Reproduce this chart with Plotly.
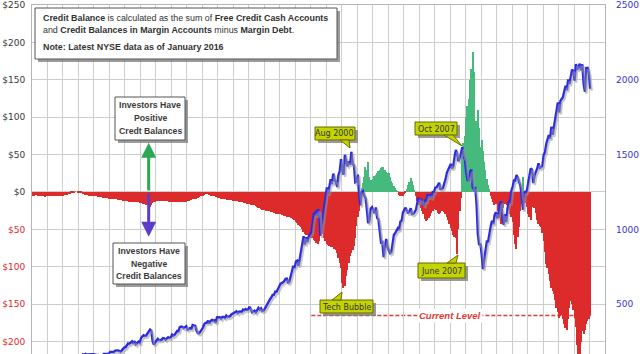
import plotly.graph_objects as go
import pandas as pd

# ---------------- data (monthly, Jan 1980 .. Jan 2016) ----------------
start_month = "1980-01-01"

credit_balance = [  # $ billions, NYSE credit balance
    -5, -5, -4, -4, -5, -5, -6, -6, -6, -6, -7, -6,          # 1980
    -6, -6, -6, -6, -6, -6, -5, -5, -5, -5, -5, -5,          # 1981
    -5, -4, -4, -4, -3, -3, -2, -1, -1, 1, 0, -1,            # 1982
    -1, -2, -2, -3, -3, -4, -4, -4, -5, -5, -5, -6,          # 1983
    -6, -6, -6, -7, -7, -7, -7, -8, -8, -8, -8, -9,          # 1984
    -9, -9, -9, -10, -10, -10, -11, -11, -11, -11, -12, -12, # 1985
    -12, -12, -12, -13, -13, -13, -13, -14, -14, -14, -14, -15,  # 1986
    -15, -15, -16, -16, -17, -18, -24, -20, -18, -15, -14, -13,  # 1987
    -12, -12, -12, -12, -12, -12, -12, -12, -12, -12, -13, -13,  # 1988
    -13, -13, -13, -13, -13, -13, -14, -14, -14, -13, -13, -13,  # 1989
    -12, -12, -11, -11, -10, -10, -10, -9, -8, -7, -6, -6,       # 1990
    -5, -4, -3, -3, -3, -4, -5, -5, -6, -6, -7, -7,              # 1991
    -8, -8, -9, -9, -10, -10, -10, -11, -11, -11, -11, -12,      # 1992
    -11, -12, -12, -12, -13, -13, -14, -14, -15, -15, -16, -16,  # 1993
    -16, -17, -17, -17, -18, -19, -20, -21, -22, -23, -24, -24,  # 1994
    -24, -25, -25, -26, -26, -27, -27, -28, -28, -29, -29, -30,  # 1995
    -30, -31, -31, -32, -32, -33, -33, -34, -35, -35, -36, -38,  # 1996
    -40, -42, -44, -45, -47, -50, -54, -56, -58, -58, -59, -60,  # 1997
    -61, -62, -64, -66, -68, -69, -66, -55, -52, -56, -62, -66,  # 1998
    -70, -71, -72, -73, -74, -74, -76, -78, -82, -88, -95, -102, # 1999
    -122, -129, -126, -112, -104, -95, -86, -82, -78, -72, -62, -45,  # 2000
    -34, -26, -12, 6, 12, 20, 33, 30, 40, 20, 16, 15,            # 2001
    18, 21, 23, 26, 28, 30, 32, 34, 33, 30, 27, 26,              # 2002
    25, 20, 15, 12, 8, 5, 2, 1, -4, -6, -5, -6,                  # 2003
    -3, -1, 4, 10, 14, 19, 15, 10, 3, -5, -12, -17,              # 2004
    -18, -22, -25, -30, -36, -39, -38, -35, -32, -28, -25, -23,  # 2005
    -21, -24, -28, -30, -28, -25, -24, -27, -30, -34, -38, -43,  # 2006
    -48, -52, -57, -60, -62, -83, -50, -25, -8, 50, 65, 75,      # 2007
    100, 115, 125, 150, 165, 187, 160, 70, 95, 110, 85, 60,      # 2008
    70, 55, 40, 30, 18, 10, 4, -5, -10, -14, -18, -16,           # 2009
    -16, -25, -35, -43, -30, -22, -16, -14, -18, -24, -30, -34,  # 2010
    -40, -58, -70, -76, -60, -47, -25, -16, 20, -11, -15, -20,   # 2011
    -29, -33, -38, -20, -11, -22, -28, -38, -43, -45, -47, -55,  # 2012
    -65, -80, -96, -101, -110, -119, -128, -133, -137, -145, -155, -160,  # 2013
    -168, -166, -164, -170, -177, -182, -184, -170, -155, -146, -150, -158,  # 2014
    -168, -180, -205, -225, -222, -200, -186, -190, -184, -177, -172, -170,  # 2015
    -165,                                                        # 2016
]

sp500 = [
    114, 114, 102, 106, 111, 114, 122, 122, 125, 127, 141, 136,
    130, 131, 136, 133, 133, 131, 131, 123, 116, 122, 126, 122,
    120, 113, 112, 116, 112, 110, 107, 120, 120, 134, 139, 141,
    145, 148, 153, 164, 162, 168, 163, 164, 166, 163, 166, 165,
    163, 157, 159, 160, 151, 153, 151, 167, 166, 166, 164, 167,
    180, 181, 181, 180, 190, 192, 191, 188, 182, 190, 202, 211,
    212, 227, 238, 235, 247, 251, 236, 253, 231, 244, 249, 242,
    274, 284, 292, 288, 290, 304, 319, 330, 322, 252, 230, 247,
    257, 268, 259, 261, 262, 274, 272, 262, 272, 279, 274, 278,
    297, 289, 295, 310, 321, 318, 346, 351, 349, 340, 346, 353,
    329, 332, 340, 331, 361, 358, 356, 323, 306, 304, 322, 330,
    344, 367, 375, 375, 390, 371, 388, 395, 388, 392, 375, 417,
    409, 413, 404, 415, 415, 408, 424, 414, 418, 419, 431, 436,
    439, 443, 452, 440, 450, 451, 448, 464, 459, 468, 462, 466,
    482, 467, 446, 451, 457, 444, 458, 475, 463, 472, 454, 459,
    470, 487, 501, 515, 533, 545, 562, 562, 584, 582, 605, 616,
    636, 640, 646, 654, 669, 671, 640, 652, 687, 705, 757, 741,
    786, 791, 757, 801, 848, 885, 954, 899, 947, 915, 955, 970,
    980, 1049, 1102, 1112, 1091, 1134, 1121, 957, 1017, 1099, 1164, 1229,
    1280, 1238, 1286, 1335, 1302, 1373, 1329, 1320, 1283, 1363, 1389, 1469,
    1394, 1366, 1499, 1452, 1421, 1455, 1431, 1518, 1437, 1429, 1315, 1320,
    1366, 1240, 1160, 1249, 1256, 1224, 1211, 1134, 1041, 1060, 1139, 1148,
    1130, 1107, 1147, 1077, 1067, 990, 912, 916, 815, 886, 936, 880,
    856, 841, 848, 917, 964, 975, 990, 1008, 996, 1051, 1058, 1112,
    1131, 1145, 1126, 1107, 1121, 1141, 1102, 1104, 1115, 1130, 1174, 1212,
    1181, 1204, 1181, 1157, 1192, 1191, 1234, 1220, 1229, 1207, 1249, 1248,
    1280, 1281, 1295, 1311, 1270, 1270, 1277, 1304, 1336, 1378, 1401, 1418,
    1438, 1407, 1421, 1482, 1531, 1503, 1455, 1474, 1527, 1549, 1481, 1468,
    1379, 1331, 1323, 1386, 1400, 1280, 1267, 1283, 1165, 969, 896, 903,
    826, 735, 798, 873, 919, 919, 987, 1021, 1057, 1036, 1096, 1115,
    1074, 1104, 1169, 1187, 1089, 1031, 1102, 1049, 1141, 1183, 1181, 1258,
    1286, 1327, 1326, 1364, 1345, 1321, 1292, 1219, 1131, 1253, 1247, 1258,
    1312, 1366, 1408, 1398, 1310, 1362, 1379, 1407, 1441, 1412, 1416, 1426,
    1498, 1515, 1569, 1598, 1631, 1606, 1686, 1633, 1682, 1757, 1806, 1848,
    1783, 1859, 1872, 1884, 1924, 1960, 1931, 2003, 1972, 2018, 2068, 2059,
    1995, 2105, 2068, 2086, 2107, 2063, 2104, 1972, 1920, 2079, 2080, 2044,
    1940,
]

left_tickvals = [-200, -150, -100, -50, 0, 50, 100, 150, 200, 250]
left_ticklabels = ["$200", "$150", "$100", "$50", "$0", "$50", "$100", "$150", "$200", "$250"]
right_tickvals = [500, 1000, 1500, 2000, 2500]
right_ticklabels = ["500", "1000", "1500", "2000", "2500"]

# ---------------- styling ----------------
RED = "#dd2a2a"
GREEN = "#46b97c"
BLUE = "#2a2ae6"
GRID = "#cdcdcd"
CALLOUT = "#c4d400"

W, H = 640, 354
ML, MR, MT, MB = 32, 35, 5, 0
PW, PH = W - ML - MR, H - MT - MB
Y_MIN, Y_MAX = -216.6, 250          # left axis (image crops the lower part)
Y2_MIN, Y2_MAX = (Y_MIN + 250) * 5, 2500  # right axis aligned: $-250 <-> 0, $250 <-> 2500
X_RANGE = ["1980-01-01", "2017-01-01"]

# drop shadow of the index line: same data on overlay axes shifted by a couple of pixels
SHADOW_DY = 2 * (Y2_MAX - Y2_MIN) / PH
SHADOW_DX_DAYS = 1.5 * (37 * 365.25) / PW


def px(x):
    return (x - ML) / PW


def py(y):
    return 1 - (y - MT) / PH


months = pd.date_range(start_month, periods=len(credit_balance), freq="MS")
bar_colors = [GREEN if v > 0 else RED for v in credit_balance]

fig = go.Figure()
fig.add_trace(go.Bar(
    x=months, y=credit_balance, marker=dict(color=bar_colors, line=dict(width=0)),
    width=31 * 24 * 3600 * 1000, xperiod="M1", xperiodalignment="middle", yaxis="y",
))
fig.add_trace(go.Scatter(
    x=months[:len(sp500)], y=sp500, mode="lines", line=dict(color="#9a9a9a", width=2.4),
    opacity=0.55, xperiod="M1", xperiodalignment="middle", xaxis="x2", yaxis="y3",
))
fig.add_trace(go.Scatter(
    x=months[:len(sp500)], y=sp500, mode="lines", line=dict(color=BLUE, width=2.4),
    xperiod="M1", xperiodalignment="middle", yaxis="y2",
))

left_text = [
    (f"<span style='color:#e0262a'>{t}</span>" if v < 0 else t)
    for v, t in zip(left_tickvals, left_ticklabels)
]

shift = pd.Timedelta(days=SHADOW_DX_DAYS)
fig.update_layout(
    width=W, height=H, margin=dict(l=ML, r=MR, t=MT, b=MB),
    plot_bgcolor="white", paper_bgcolor="white", showlegend=False, bargap=0,
    xaxis=dict(
        type="date", range=X_RANGE, dtick="M12", tick0="1980-01-01",
        showgrid=True, gridcolor=GRID, gridwidth=1, showticklabels=False, ticks="",
        showline=True, linecolor="#b5b5b5", mirror=True, zeroline=False,
    ),
    xaxis2=dict(
        type="date", overlaying="x", visible=False,
        range=[str(pd.Timestamp(X_RANGE[0]) - shift), str(pd.Timestamp(X_RANGE[1]) - shift)],
    ),
    yaxis=dict(
        range=[Y_MIN, Y_MAX], tickvals=left_tickvals, ticktext=left_text,
        showgrid=True, gridcolor=GRID, zeroline=False, ticks="",
        tickfont=dict(family="DejaVu Sans", size=9, color="#383838"),
        showline=True, linecolor="#b5b5b5", mirror=True, ticklabelstandoff=4,
    ),
    yaxis2=dict(
        overlaying="y", side="right", range=[Y2_MIN, Y2_MAX],
        tickvals=right_tickvals, ticktext=right_ticklabels,
        showgrid=False, zeroline=False, ticks="",
        tickfont=dict(family="DejaVu Sans", size=9, color="#3535d0"),
        ticklabelstandoff=10,
    ),
    yaxis3=dict(
        overlaying="y", visible=False,
        range=[Y2_MIN + SHADOW_DY, Y2_MAX + SHADOW_DY],
    ),
)

shapes = []
annotations = []


def rect(x0, y0, x1, y1, fill, border="#555555", shadow=True):
    if shadow:
        shapes.append(dict(type="rect", xref="paper", yref="paper", layer="above",
                           x0=px(x0 + 3), x1=px(x1 + 3), y0=py(y0 + 3), y1=py(y1 + 3),
                           fillcolor="#7a7a7a", line=dict(width=0), opacity=0.75))
    shapes.append(dict(type="rect", xref="paper", yref="paper", layer="above",
                       x0=px(x0), x1=px(x1), y0=py(y0), y1=py(y1),
                       fillcolor=fill, line=dict(color=border, width=1)))


def wedge(pts, fill):
    path = "M " + " L ".join(f"{px(a)},{py(b)}" for a, b in pts) + " Z"
    shapes.append(dict(type="path", xref="paper", yref="paper", layer="above",
                       path=path, fillcolor=fill, line=dict(color="#6b6b00", width=1)))


def text(x, y, s, size=8.5, color="#333333", family="Liberation Sans", anchor="left"):
    annotations.append(dict(xref="paper", yref="paper", x=px(x), y=py(y), text=s,
                            showarrow=False, xanchor=anchor, yanchor="middle",
                            font=dict(size=size, color=color, family=family)))


# description box
rect(35, 8, 337, 59, "white")
text(41, 18, "<b>Credit Balance</b> is calculated as the sum of <b>Free Credit Cash Accounts</b>", size=8.9)
text(41, 30, "and <b>Credit Balances in Margin Accounts</b> minus <b>Margin Debt</b>.", size=8.9)
text(41, 47, "<b>Note: Latest NYSE data as of January 2016</b>", size=8.9)

# positive / negative boxes
rect(115, 97, 185, 140, "white")
for yy, s in [(105, "Investors Have"), (118, "Positive"), (131, "Credt Balances")]:
    text(150, yy, f"<b>{s}</b>", size=8.7, color="#3a3a3a", anchor="center")
rect(113, 243, 185, 284, "white")
for yy, s in [(251, "Investors Have"), (264, "Negative"), (276, "Credit Balances")]:
    text(149, yy, f"<b>{s}</b>", size=8.7, color="#3a3a3a", anchor="center")

# arrows from $0
annotations.append(dict(x="1987-07-15", y=66, ax="1987-07-15", ay=0, xref="x", yref="y",
                        axref="x", ayref="y", text="", showarrow=True, arrowhead=2,
                        arrowsize=1, arrowwidth=3, arrowcolor="#2aa852"))
annotations.append(dict(x="1987-07-15", y=-60, ax="1987-07-15", ay=0, xref="x", yref="y",
                        axref="x", ayref="y", text="", showarrow=True, arrowhead=2,
                        arrowsize=1, arrowwidth=3, arrowcolor="#5c3cc8"))

# current level line (last value of the series)
current = credit_balance[-1]
shapes.append(dict(type="line", xref="x", yref="y", layer="below",
                   x0="1998-01-15", x1="2016-02-01", y0=current, y1=current,
                   line=dict(color="#e03a3a", width=1.5, dash="4px,2px")))
annotations.append(dict(x="2007-01-01", y=current, xref="x", yref="y",
                        text="<b><i>Current Level</i></b>", showarrow=False,
                        bgcolor="white", borderpad=1,
                        font=dict(size=9.5, color="#e03a3a", family="Liberation Sans")))

# callouts
callouts = [
    ("Aug 2000", (315, 127, 355, 140), [(340, 140), (349, 140), (350, 148)]),
    ("Oct 2007", (415, 122, 457, 135), [(444, 135), (453, 135), (462, 146)]),
    ("June 2007", (418, 263, 465, 278), [(447, 263), (456, 263), (458, 255)]),
    ("Tech Bubble", (320, 300, 373, 313), [(332, 300), (341, 300), (342, 292)]),
]
for label, (x0, y0, x1, y1), tri in callouts:
    rect(x0, y0, x1, y1, CALLOUT, border="#6b6b00")
    wedge(tri, CALLOUT)
    text((x0 + x1) / 2, (y0 + y1) / 2 + 0.5, label, size=8, color="#333333",
         family="DejaVu Sans", anchor="center")

fig.update_layout(shapes=shapes, annotations=annotations)
fig.write_html("out.html")
